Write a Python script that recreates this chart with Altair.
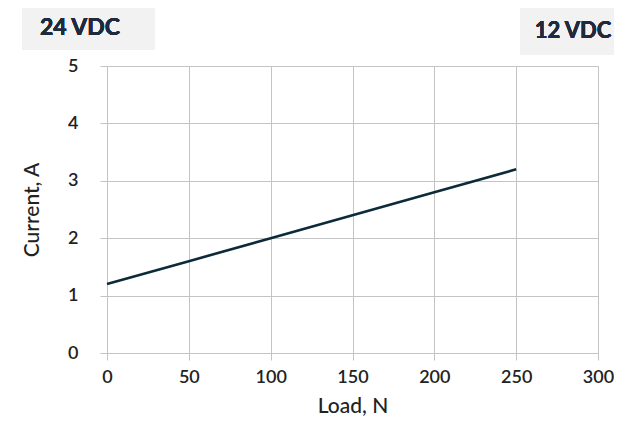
import altair as alt
import pandas as pd

load_n = [0, 50, 100, 150, 200, 250]
current_a = [1.2, 1.6, 2.0, 2.4, 2.8, 3.2]
x_ticks = [0, 50, 100, 150, 200, 250, 300]
y_ticks = [0, 1, 2, 3, 4, 5]
left_label = "24 VDC"
right_label = "12 VDC"

df = pd.DataFrame({"Load": load_n, "Current": current_a})

W, H = 491, 287
FONT = "Lato"
GRID = "#c4c4c4"
TXT = "#1f2a3c"

base = alt.Chart(df)

line = base.mark_line(color="#0d2a3a", strokeWidth=2.6).encode(
    x=alt.X("Load:Q", title="Load, N",
            scale=alt.Scale(domain=[0, 300], nice=False),
            axis=alt.Axis(values=x_ticks, grid=True, gridColor=GRID, domainColor=GRID,
                          tickColor=GRID, tickSize=7, labelPadding=8, titlePadding=9,
                          labelFont=FONT, labelFontSize=18, labelFontWeight=600, labelColor="#222",
                          titleFont=FONT, titleFontSize=21, titleFontWeight=500, titleColor="#222",
                          labelFlush=False)),
    y=alt.Y("Current:Q", title="Current, A",
            scale=alt.Scale(domain=[0, 5], nice=False),
            axis=alt.Axis(values=y_ticks, grid=True, gridColor=GRID, domainColor=GRID,
                          tickColor=GRID, tickSize=7, labelPadding=22, titlePadding=25,
                          labelFont=FONT, labelFontSize=18, labelFontWeight=600, labelColor="#222",
                          titleFont=FONT, titleFontSize=21, titleFontWeight=500, titleColor="#222",
                          labelFlush=False)),
)

box_l = base.mark_rect(color="#f2f2f2").encode(
    x=alt.value(-85), x2=alt.value(48), y=alt.value(-58), y2=alt.value(-16))
box_r = base.mark_rect(color="#f2f2f2").encode(
    x=alt.value(413), x2=alt.value(520), y=alt.value(-60), y2=alt.value(-11))
txt_l = base.mark_text(text=left_label, font=FONT, fontSize=23, fontWeight="bold",
                       color=TXT, align="center", baseline="middle").encode(
    x=alt.value(-27), y=alt.value(-38))
txt_r = base.mark_text(text=right_label, font=FONT, fontSize=22, fontWeight="bold",
                       color=TXT, align="center", baseline="middle").encode(
    x=alt.value(466), y=alt.value(-35))

chart = alt.layer(box_l, box_r, txt_l, txt_r, line).properties(
    width=W, height=H,
    autosize=alt.AutoSizeParams(type="none"),
    padding={"left": 99, "top": 58, "right": 16, "bottom": 65},
).configure_view(stroke=None).configure(background="white")

chart.save("out.html", embed_options={"renderer": "svg", "actions": False})
